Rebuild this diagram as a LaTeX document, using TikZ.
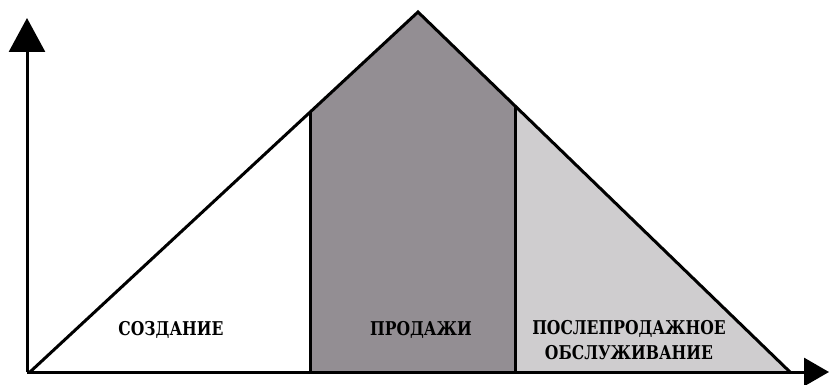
\documentclass[tikz,border=0pt]{standalone}
\usepackage{fontspec}
\newfontfamily\labelfont[FakeStretch=0.82]{DejaVu Serif}
\usetikzlibrary{arrows.meta}
\definecolor{midgray}{HTML}{938E93}
\definecolor{lightgray}{HTML}{CFCDCF}
\tikzset{
  outline/.style={draw=black,line width=3pt,line join=miter},
  axis/.style={draw=black,line width=3pt},
  lbl/.style={font=\labelfont\bfseries\fontsize{19}{25}\selectfont,align=center,inner sep=0pt,text=black},
}
\begin{document}
\begin{tikzpicture}[x=1pt,y=-1pt]
\useasboundingbox (0,0) rectangle (830,385);
% key points
\coordinate (O) at (27,372);
\coordinate (L) at (30,372);
\coordinate (A) at (418,12);
\coordinate (R) at (790,372);
\coordinate (P1) at (310,112);
\coordinate (B1) at (310,372);
\coordinate (P2) at (515,106);
\coordinate (B2) at (515,372);
\coordinate (Ytip) at (27,18);
\coordinate (Xtip) at (829,372);
% fills
\fill[midgray] (B1) -- (P1) -- (A) -- (P2) -- (B2) -- cycle;
\fill[lightgray] (B2) -- (P2) -- (R) -- cycle;
% outline
\draw[outline] (L) -- (A) -- (R);
\draw[outline] (B1) -- (P1);
\draw[outline] (B2) -- (P2);
% axes
\draw[axis,-{Triangle[length=34pt,width=36pt]}] (O) -- (Ytip);
\draw[axis,-{Triangle[length=25pt,width=28pt]}] (O) -- (Xtip);
% labels
\node[lbl] (t1) at (171,330) {СОЗДАНИЕ};
\node[lbl] (t2) at (421,330) {ПРОДАЖИ};
\node[lbl] (t3) at (629,340) {ПОСЛЕПРОДАЖНОЕ\\ОБСЛУЖИВАНИЕ};
\end{tikzpicture}
\end{document}
